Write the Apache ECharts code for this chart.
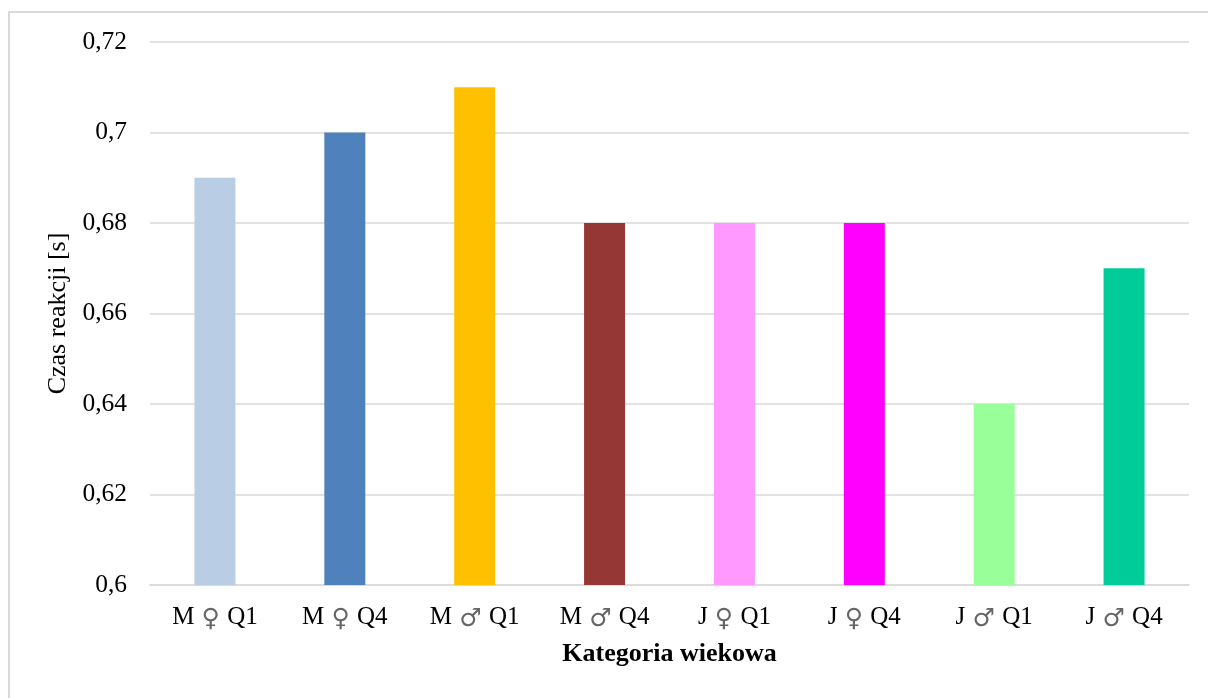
<!DOCTYPE html>
<html>
<head>
<meta charset="utf-8">
<script src="https://cdn.jsdelivr.net/npm/echarts@6/dist/echarts.min.js"></script>
<style>
html,body{margin:0;padding:0;background:#fff;}
#chart{width:1208px;height:698px;}
</style>
</head>
<body>
<div id="chart"></div>
<script>
const categories = ['M ♀ Q1', 'M ♀ Q4', 'M ♂ Q1', 'M ♂ Q4', 'J ♀ Q1', 'J ♀ Q4', 'J ♂ Q1', 'J ♂ Q4'];
const values = [0.69, 0.70, 0.71, 0.68, 0.68, 0.68, 0.64, 0.67];
const barColors = ['#B9CDE5', '#4F81BD', '#FFC000', '#953735', '#FF99FF', '#FF00FF', '#99FF99', '#00CC99'];
const yTicks = { min: 0.6, max: 0.72, interval: 0.02 };

const font = '"Liberation Serif", "Times New Roman", serif';
const chart = echarts.init(document.getElementById('chart'), null, { renderer: 'canvas' });
chart.setOption({
  animation: false,
  backgroundColor: '#fff',
  textStyle: { fontFamily: font },
  graphic: [{
    type: 'rect',
    shape: { x: 9, y: 12, width: 1300, height: 800 },
    style: { fill: 'none', stroke: '#d9d9d9', lineWidth: 2 },
    silent: true
  }],
  grid: { left: 150, right: 19, top: 42, bottom: 113 },
  xAxis: {
    type: 'category',
    data: categories,
    name: 'Kategoria wiekowa',
    nameLocation: 'middle',
    nameGap: 56,
    nameTextStyle: { fontFamily: font, fontSize: 26, fontWeight: 'bold', color: '#000' },
    axisLine: { show: true, lineStyle: { color: '#d9d9d9', width: 1.5 } },
    axisTick: { show: false },
    axisLabel: {
      interval: 0,
      hideOverlap: false,
      fontFamily: font, fontSize: 25, color: '#000', margin: 17,
      formatter: v => v.split(' ').map((p, i) => i === 1 ? '{s|' + p + '}' : '{t|' + p + '}').join('{t| }'),
      rich: {
        t: { fontFamily: font, fontSize: 25, color: '#000' },
        s: { fontFamily: '"DejaVu Sans ExtraLight", "DejaVu Sans"', fontSize: 25, color: '#666', padding: [5, 1, 0, 1] }
      }
    }
  },
  yAxis: {
    type: 'value',
    min: yTicks.min,
    max: yTicks.max,
    interval: yTicks.interval,
    name: 'Czas reakcji [s]',
    nameLocation: 'middle',
    nameGap: 76,
    nameTextStyle: { fontFamily: font, fontSize: 26, color: '#000' },
    axisLine: { show: false },
    axisTick: { show: false },
    splitLine: { lineStyle: { color: '#d9d9d9', width: 1.5 } },
    axisLabel: {
      fontFamily: font, fontSize: 25.5, color: '#000', margin: 23,
      formatter: v => String(+v.toFixed(2)).replace('.', ',')
    }
  },
  series: [{
    type: 'bar',
    barWidth: 41,
    data: values.map((v, i) => ({ value: v, itemStyle: { color: barColors[i] } }))
  }]
});
</script>
</body>
</html>
